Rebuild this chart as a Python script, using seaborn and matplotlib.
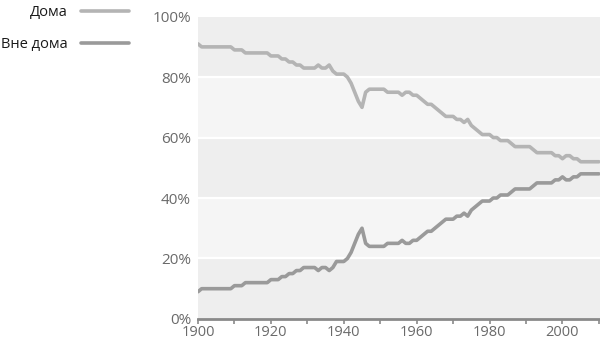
import numpy as np
import pandas as pd
import matplotlib
matplotlib.use("Agg")
import matplotlib.pyplot as plt
import seaborn as sns

years = list(range(1900, 2011))

# Share of births at home, % (annual)
home = [
    91, 90, 90, 90, 90, 90, 90, 90, 90, 90,
    89, 89, 89, 88, 88, 88, 88, 88, 88, 88,
    87, 87, 87, 86, 86, 85, 85, 84, 84, 83,
    83, 83, 83, 84, 83, 83, 84, 82, 81, 81,
    81, 80, 78, 75, 72, 70, 75, 76, 76, 76,
    76, 76, 75, 75, 75, 75, 74, 75, 75, 74,
    74, 73, 72, 71, 71, 70, 69, 68, 67, 67,
    67, 66, 66, 65, 66, 64, 63, 62, 61, 61,
    61, 60, 60, 59, 59, 59, 58, 57, 57, 57,
    57, 57, 56, 55, 55, 55, 55, 55, 54, 54,
    53, 54, 54, 53, 53, 52, 52, 52, 52, 52, 52,
]

# Share of births outside the home, % (annual)
away = [
    9, 10, 10, 10, 10, 10, 10, 10, 10, 10,
    11, 11, 11, 12, 12, 12, 12, 12, 12, 12,
    13, 13, 13, 14, 14, 15, 15, 16, 16, 17,
    17, 17, 17, 16, 17, 17, 16, 17, 19, 19,
    19, 20, 22, 25, 28, 30, 25, 24, 24, 24,
    24, 24, 25, 25, 25, 25, 26, 25, 25, 26,
    26, 27, 28, 29, 29, 30, 31, 32, 33, 33,
    33, 34, 34, 35, 34, 36, 37, 38, 39, 39,
    39, 40, 40, 41, 41, 41, 42, 43, 43, 43,
    43, 43, 44, 45, 45, 45, 45, 45, 46, 46,
    47, 46, 46, 47, 47, 48, 48, 48, 48, 48, 48,
]

series_names = ["Дома", "Вне дома"]
y_ticks = [0, 20, 40, 60, 80, 100]
y_tick_labels = ["0%", "20%", "40%", "60%", "80%", "100%"]
x_ticks = list(range(1900, 2011, 10))
x_tick_labels = ["1900", "", "1920", "", "1940", "", "1960", "", "1980", "", "2000", ""]

sns.set_theme(style="white")
plt.rcParams["font.family"] = ["Open Sans", "DejaVu Sans"]

fig = plt.figure(figsize=(6, 3.4), dpi=100)
ax = fig.add_axes([0.33, 0.062, 0.67, 0.889])

# Alternating horizontal bands
band_colors = ["#eeeeee", "#f5f5f5"]
for i in range(len(y_ticks) - 1):
    ax.axhspan(y_ticks[i], y_ticks[i + 1], color=band_colors[i % 2], lw=0, zorder=0)
for yv in y_ticks[1:-1]:
    ax.axhline(yv, color="white", lw=1.6, zorder=1)

df = pd.DataFrame({"year": years, "home": home, "away": away})
sns.lineplot(data=df, x="year", y="home", color="#b4b4b4", lw=2.6, ax=ax,
             label=series_names[0], zorder=3)
sns.lineplot(data=df, x="year", y="away", color="#9a9a9a", lw=2.6, ax=ax,
             label=series_names[1], zorder=3)

ax.set_xlim(1900, 2010.3)
ax.set_ylim(0, 100)
ax.set_xlabel("")
ax.set_ylabel("")

ax.set_yticks(y_ticks)
ax.set_yticklabels(y_tick_labels)
ax.set_xticks(x_ticks)
ax.set_xticklabels(x_tick_labels)
ax.tick_params(axis="y", length=0, pad=5, labelsize=11, labelcolor="#6a6a6a")
ax.tick_params(axis="x", length=3.5, width=1.2, color="#8a8a8a", direction="out",
               pad=1, labelsize=10.5, labelcolor="#6a6a6a", bottom=True)

for side in ["top", "right", "left"]:
    ax.spines[side].set_visible(False)
ax.spines["bottom"].set_color("#8a8a8a")
ax.spines["bottom"].set_linewidth(2)
ax.spines["bottom"].set_zorder(4)

handles, labels = ax.get_legend_handles_labels()
ax.get_legend().remove()
fig.legend(handles, labels, loc="upper left", bbox_to_anchor=(-0.02, 1.025),
           markerfirst=False, frameon=False, fontsize=10.5,
           handlelength=3.3, handletextpad=0.9, labelspacing=1.2,
           labelcolor="#1a1a1a")

fig.savefig("out.png", dpi=100)
